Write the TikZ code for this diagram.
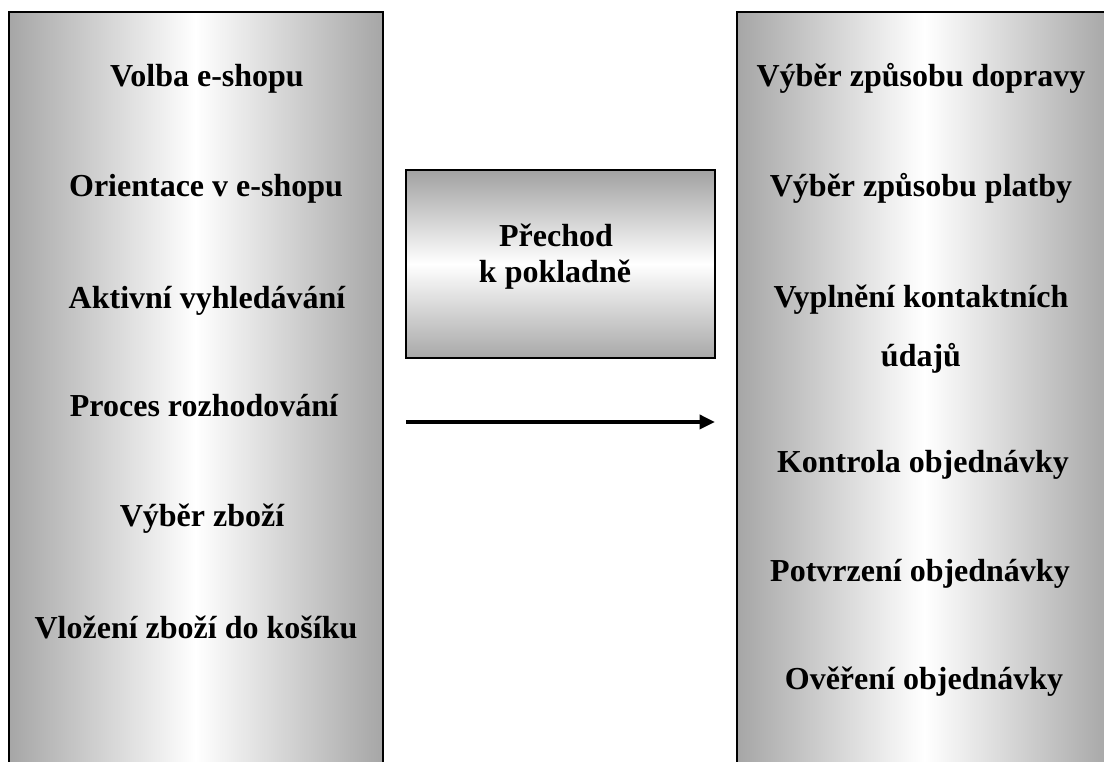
\documentclass[tikz,border=0pt]{standalone}
\usepackage{fontspec}
\setmainfont{Liberation Serif}
\usetikzlibrary{arrows.meta}
\begin{document}
\begin{tikzpicture}[x=0.75pt,y=-0.75pt,
  panel/.style={draw=black,line width=1.5pt},
  hpanel/.style={panel,left color=black!35,right color=black!35,middle color=white},
  vpanel/.style={panel,top color=black!37,bottom color=black!34,middle color=white},
  lbl/.style={anchor=base,inner sep=0pt,font=\fontsize{24}{28}\selectfont\bfseries},
  flow/.style={line width=2.6pt,-{Triangle[length=11.5pt,width=10.5pt]}}]
\useasboundingbox (0,0) rectangle (1104,762);
\begin{scope}
  \clip (0,0) rectangle (1104,762);
  % shopping phase
  \path[hpanel] (8.5,12) rectangle (383,775);
  % checkout phase
  \path[hpanel] (737,12) rectangle (1112,775);
\end{scope}
% transition box
\path[vpanel] (405.5,170) rectangle (715,358);
\node[lbl] (p1) at (556,247) {Přechod};
\node[lbl] (p2) at (555,283) {k pokladně};
% left column
\node[lbl] (l1) at (207,87) {Volba e-shopu};
\node[lbl] (l2) at (206,197) {Orientace v e-shopu};
\node[lbl] (l3) at (207,309) {Aktivní vyhledávání};
\node[lbl] (l4) at (204,417) {Proces rozhodování};
\node[lbl] (l5) at (202,527) {Výběr zboží};
\node[lbl] (l6) at (196,639) {Vložení zboží do košíku};
% right column
\node[lbl] (r1) at (921,87) {Výběr způsobu dopravy};
\node[lbl] (r2) at (921,197) {Výběr způsobu platby};
\node[lbl] (r3) at (921,308) {Vyplnění kontaktních};
\node[lbl] (r3b) at (921,367) {údajů};
\node[lbl] (r4) at (923,473) {Kontrola objednávky};
\node[lbl] (r5) at (920,582) {Potvrzení objednávky};
\node[lbl] (r6) at (924,690) {Ověření objednávky};
% arrow
\coordinate (a0) at (406,422);
\coordinate (a1) at (715,422);
\draw[flow] (a0) -- (a1);
\end{tikzpicture}
\end{document}
